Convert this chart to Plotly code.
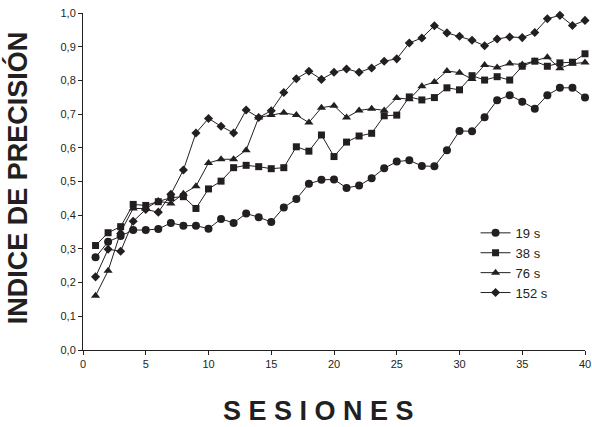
import plotly.graph_objects as go

sessions = [1, 2, 3, 4, 5, 6, 7, 8, 9, 10, 11, 12, 13, 14, 15, 16, 17, 18, 19, 20,
            21, 22, 23, 24, 25, 26, 27, 28, 29, 30, 31, 32, 33, 34, 35, 36, 37, 38, 39, 40]

s19 = [0.275, 0.321, 0.338, 0.356, 0.356, 0.359, 0.377, 0.369, 0.369, 0.360,
       0.389, 0.377, 0.405, 0.394, 0.380, 0.423, 0.448, 0.493, 0.505, 0.506,
       0.481, 0.488, 0.510, 0.539, 0.559, 0.563, 0.546, 0.545, 0.593, 0.650,
       0.649, 0.691, 0.741, 0.756, 0.737, 0.716, 0.756, 0.778, 0.778, 0.749]

s38 = [0.310, 0.348, 0.366, 0.432, 0.429, 0.440, 0.452, 0.455, 0.420, 0.478,
       0.501, 0.541, 0.548, 0.544, 0.538, 0.541, 0.603, 0.590, 0.638, 0.574,
       0.617, 0.635, 0.643, 0.695, 0.697, 0.751, 0.742, 0.749, 0.778, 0.772,
       0.814, 0.801, 0.811, 0.801, 0.842, 0.857, 0.842, 0.852, 0.854, 0.879]

s76 = [0.161, 0.235, 0.350, 0.420, 0.420, 0.442, 0.435, 0.464, 0.486, 0.555,
       0.566, 0.566, 0.593, 0.690, 0.697, 0.704, 0.697, 0.675, 0.719, 0.725,
       0.690, 0.711, 0.716, 0.711, 0.748, 0.744, 0.783, 0.795, 0.828, 0.823,
       0.804, 0.846, 0.838, 0.850, 0.847, 0.857, 0.869, 0.836, 0.850, 0.853]

s152 = [0.217, 0.299, 0.293, 0.382, 0.417, 0.409, 0.462, 0.534, 0.644, 0.687,
        0.664, 0.644, 0.712, 0.690, 0.710, 0.764, 0.805, 0.827, 0.803, 0.824,
        0.834, 0.824, 0.837, 0.857, 0.864, 0.911, 0.926, 0.962, 0.941, 0.931,
        0.919, 0.903, 0.923, 0.929, 0.927, 0.942, 0.983, 0.993, 0.963, 0.978]

series_names = ["19 s", "38 s", "76 s", "152 s"]
y_ticks = [0.0, 0.1, 0.2, 0.3, 0.4, 0.5, 0.6, 0.7, 0.8, 0.9, 1.0]
y_tick_labels = ["0,0", "0,1", "0,2", "0,3", "0,4", "0,5", "0,6", "0,7", "0,8", "0,9", "1,0"]
x_ticks = [0, 5, 10, 15, 20, 25, 30, 35, 40]

INK = "#231f20"
symbols = ["circle", "square", "triangle-up", "diamond"]
sizes = [8, 7, 8, 7]

fig = go.Figure()
for name, vals, sym, sz in zip(series_names, [s19, s38, s76, s152], symbols, sizes):
    fig.add_trace(go.Scatter(
        x=sessions, y=vals, name=name, mode="lines+markers",
        line=dict(color=INK, width=1),
        marker=dict(symbol=sym, size=sz, color=INK, line=dict(width=0)),
        cliponaxis=False,
    ))

fig.update_layout(
    width=592, height=427,
    margin=dict(l=83, r=7, t=13, b=77),
    paper_bgcolor="white", plot_bgcolor="white",
    font=dict(family="Liberation Sans, Arial, sans-serif", color=INK, size=11),
    showlegend=True,
    legend=dict(
        x=0.782, y=0.392, xanchor="left", yanchor="top",
        bgcolor="rgba(0,0,0,0)", font=dict(size=13, color=INK),
        itemwidth=30, tracegroupgap=0,
    ),
    xaxis=dict(
        range=[0, 40], tickmode="array", tickvals=x_ticks,
        showline=True, linecolor=INK, linewidth=1,
        ticks="outside", ticklen=4, tickcolor=INK, tickwidth=1,
        showgrid=False, zeroline=False, automargin=False,
        ticklabeloverflow="allow",
        tickfont=dict(size=11, color=INK),
    ),
    yaxis=dict(
        range=[0, 1], tickmode="array", tickvals=y_ticks, ticktext=y_tick_labels,
        showline=True, linecolor=INK, linewidth=1,
        ticks="outside", ticklen=4, tickcolor=INK, tickwidth=1,
        showgrid=False, zeroline=False, automargin=False,
        ticklabeloverflow="allow",
        tickfont=dict(size=11, color=INK),
    ),
    annotations=[
        dict(text="<b>INDICE DE PRECISIÓN</b>", xref="paper", yref="paper",
             x=-0.131, y=0.51, textangle=-90, showarrow=False,
             xanchor="center", yanchor="middle",
             font=dict(size=27, color=INK, family="Liberation Sans, Arial, sans-serif")),
        dict(text="<b>S E S I O N E S</b>", xref="paper", yref="paper",
             x=0.47, y=-0.182, showarrow=False,
             xanchor="center", yanchor="middle",
             font=dict(size=27, color=INK, family="Liberation Sans, Arial, sans-serif")),
    ],
)

fig.write_html("out.html", config={"displayModeBar": False},
               post_script="document.body.style.margin='0';")
